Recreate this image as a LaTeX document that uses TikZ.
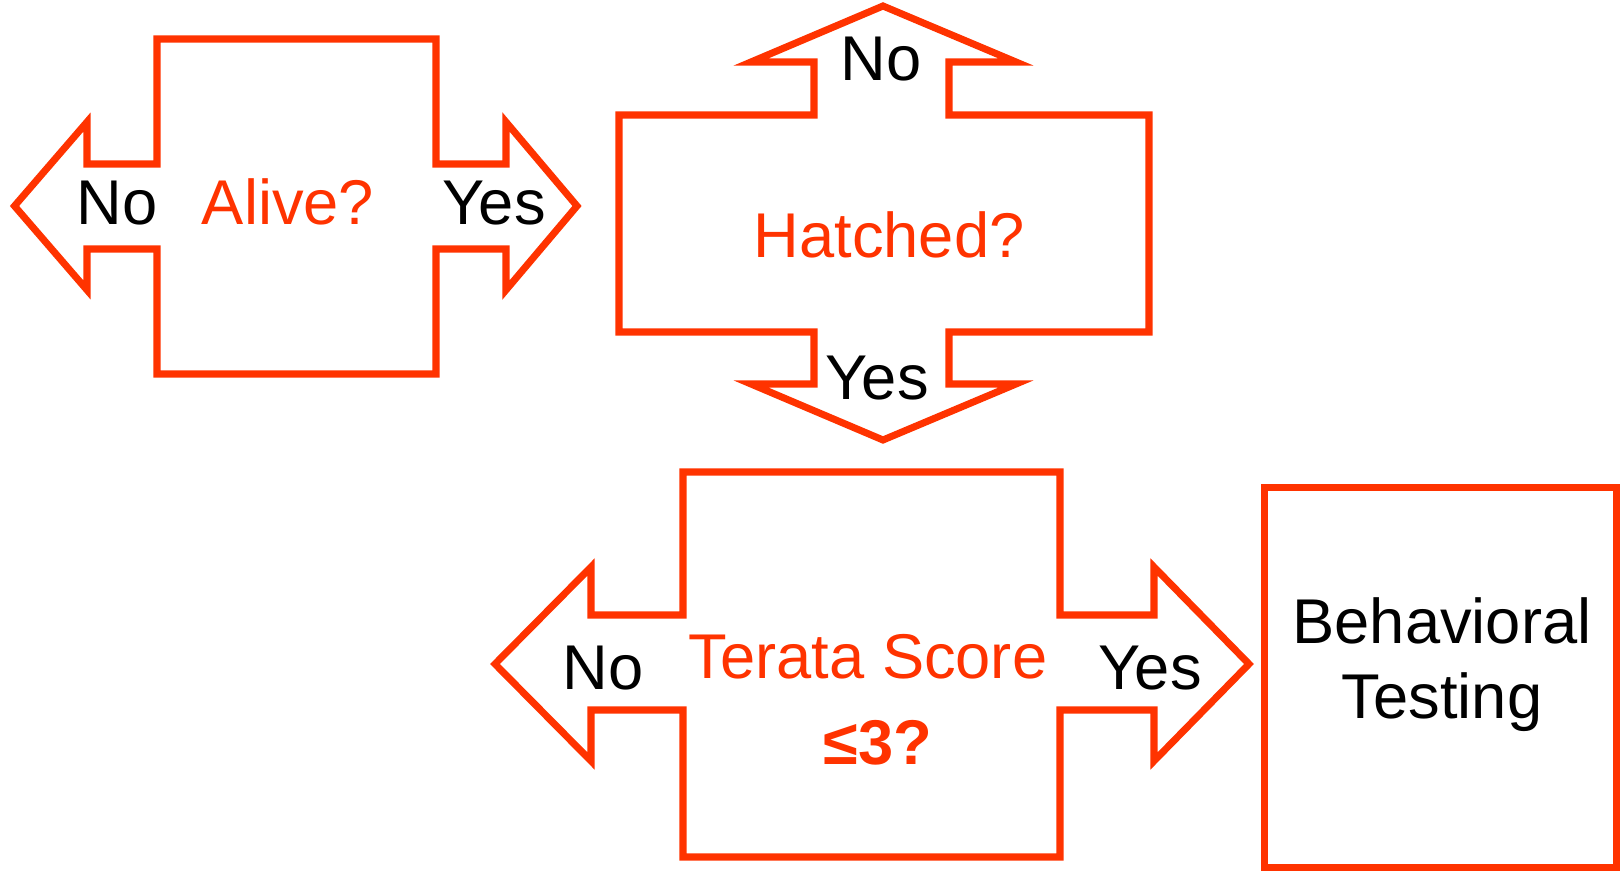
\documentclass[tikz,border=0pt]{standalone}
\usepackage{fontspec}
\setmainfont{Liberation Sans}
\usetikzlibrary{positioning}
\definecolor{signal}{RGB}{255,51,0}

\begin{document}
\begin{tikzpicture}[x=0.02cm, y=-0.02cm,
                outline/.style={draw=signal, line width=4pt, line join=miter},
                answer/.style={anchor=base, inner sep=0pt, text=black, font=\fontsize{36}{43}\selectfont},
                question/.style={anchor=base, inner sep=0pt, text=signal, font=\fontsize{36}{43}\selectfont},
                endbox/.style={rectangle, draw=signal, line width=4pt, minimum width=7.06cm, minimum height=7.62cm},
            ]
            \useasboundingbox (0,0) rectangle (1624,871);

            % alive: two-way arrow
            \draw[outline] (14.5,206) -- (87,122) -- (87,164) -- (157,164) -- (157,39) -- (436,39) -- (436,164) -- (506,164) -- (506,122)
                -- (577,206) -- (506,290) -- (506,249) -- (436,249) -- (436,374) -- (157,374) -- (157,249) -- (87,249) -- (87,290) -- cycle;
            % hatched: up/down arrow
            \draw[outline] (883,6) -- (1016,62) -- (949,62) -- (949,115) -- (1149,115) -- (1149,332) -- (949,332) -- (949,384) -- (1016,384)
                -- (883,440) -- (751,384) -- (814,384) -- (814,332) -- (619,332) -- (619,115) -- (814,115) -- (814,62) -- (751,62) -- cycle;
            % terata: two-way arrow
            \draw[outline] (495,664) -- (591,567) -- (591,615) -- (683,615) -- (683,472) -- (1060,472) -- (1060,615) -- (1154,615) -- (1154,567)
                -- (1249,664) -- (1154,761) -- (1154,710) -- (1060,710) -- (1060,857) -- (683,857) -- (683,710) -- (591,710) -- (591,761) -- cycle;

            \node[answer]   (aliveNo)  at (117,225)  {No};
            \node[question] (alive)    at (288,225)  {Alive?};
            \node[answer]   (aliveYes) at (494,225)  {Yes};

            \node[answer]   (hatchNo)  at (881,81)   {No};
            \node[question] (hatch)    at (889,258)  {Hatched?};
            \node[answer]   (hatchYes) at (877,400)  {Yes};

            \node[answer]   (terNo)    at (603,689)  {No};
            \node[question] (terata)   at (868,679)  {Terata Score};
            \node[question, font=\fontsize{36}{43}\selectfont\bfseries] (score) at (878,764) {≤3?};
            \node[answer]   (terYes)   at (1150,689) {Yes};

            \node[endbox]   (behav)    at (1440.5,677.5) {};
            \node[answer, anchor=center, align=center, font=\fontsize{36}{42.7}\selectfont] (behavTxt) at (1442,665) {Behavioral\\Testing};
        \end{tikzpicture}
\end{document}
